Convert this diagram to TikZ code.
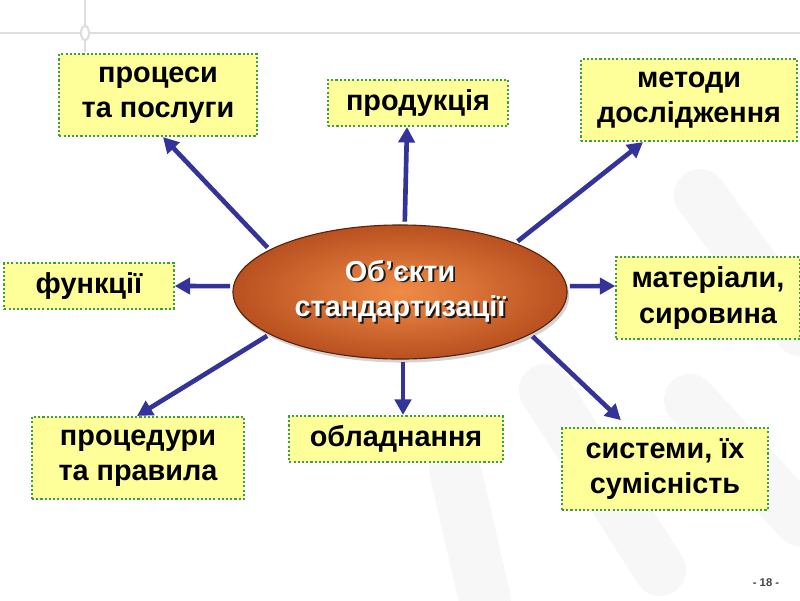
\documentclass[tikz,border=0pt]{standalone}
\usepackage{fontspec}
\setmainfont{Liberation Sans}
\usepackage{tikz}
\usetikzlibrary{shapes.geometric,arrows.meta,positioning,calc,shadows}
\definecolor{arrowBlue}{RGB}{51,51,153}
\definecolor{boxYellow}{RGB}{255,255,153}
\definecolor{boxGreen}{RGB}{60,160,60}
\definecolor{ellLight}{RGB}{240,140,70}
\definecolor{ellDark}{RGB}{185,80,32}
\definecolor{ellEdge}{RGB}{90,35,10}
\definecolor{decoGray}{RGB}{222,222,222}
\newcommand{\shadowtxt}[1]{\leavevmode\rlap{\hspace{1.4pt}\raisebox{-1.4pt}{\color{black!90}#1}}#1}

\begin{document}
\begin{tikzpicture}[
    x=0.025cm, y=-0.025cm,
    topic/.style={draw=boxGreen, line width=1.5pt, dash pattern=on 1.5pt off 1.5pt,
      fill=boxYellow, align=center, inner sep=2pt,
      font=\bfseries\fontsize{20.5}{25}\selectfont},
    oneline/.style={topic, minimum height=1.15cm},
    twoline/.style={topic, minimum height=2.05cm},
    spoke/.style={arrowBlue, line width=3.3pt, -{Triangle[length=11pt,width=11.5pt]},
      shorten <=2pt},
    band/.style={black!3, line width=1.3cm, line cap=round}
  ]
  \useasboundingbox (0,0) rectangle (800,600);

  % faint background bands
  \draw[band] (700,195) -- (800,330);
  \draw[band] (545,390) -- (660,570);
  \draw[band] (455,470) -- (485,600);
  \draw[band] (690,400) -- (800,520);

  % top decoration
  \draw[decoGray, line width=2pt] (0,33) -- (800,33);
  \draw[decoGray, line width=1.5pt] (85,0) -- (85,52);
  \draw[decoGray, line width=1.5pt, fill=white] (85,33) ellipse [x radius=4, y radius=7];

  % centre
  \node[ellipse, draw=ellEdge, line width=0.8pt, minimum width=8.35cm, minimum height=3.35cm,
    inner color=ellLight, outer color=ellDark,
    drop shadow={shadow xshift=1.5pt, shadow yshift=-2.5pt, opacity=0.35},
    text=white, align=center, font=\bfseries\fontsize{20.5}{25}\selectfont]
    (obj) at (400,292) {\shadowtxt{Об’єкти}\\\shadowtxt{стандартизації}};

  % objects
  \node[twoline, minimum width=4.93cm] (proc) at (158,95) {процеси\\та послуги};
  \node[oneline, minimum width=4.5cm] (prod) at (418,103) {продукція};
  \node[twoline, minimum width=5.4cm] (meth) at (689,100) {методи\\дослідження};
  \node[oneline, minimum width=4.23cm] (func) at (89,286) {функції};
  \node[twoline, minimum width=4.58cm] (mat) at (708,298) {матеріали,\\сировина};
  \node[twoline, minimum width=5.3cm] (rule) at (138,458) {процедури\\та правила};
  \node[oneline, minimum width=5.33cm] (equip) at (396,439) {обладнання};
  \node[twoline, minimum width=5.15cm] (sys) at (665,469) {системи, їх\\сумісність};

  % arrows
  \draw[spoke] (obj.162) -- ($(proc.south)+(5,0)$);
  \draw[spoke] (obj.86) -- ($(prod.south)+(-11,0)$);
  \draw[spoke] (obj.23) -- ($(meth.south)+(-46,0)$);
  \draw[spoke] (obj.178) -- (func.east);
  \draw[spoke] (obj.2) -- ($(mat.west)+(0,-12)$);
  \draw[spoke] (obj.198) -- ($(rule.north)+(-1,0)$);
  \draw[spoke] ($(obj.south)+(3,0)$) -- ($(equip.north)+(7,0)$);
  \draw[spoke, shorten >=7pt] (obj.-18) -- ($(sys.north)+(-37,0)$);

  \node[font=\bfseries\fontsize{8}{10}\selectfont, text=black!75] (page) at (766,583) {- 18 -};
\end{tikzpicture}
\end{document}
